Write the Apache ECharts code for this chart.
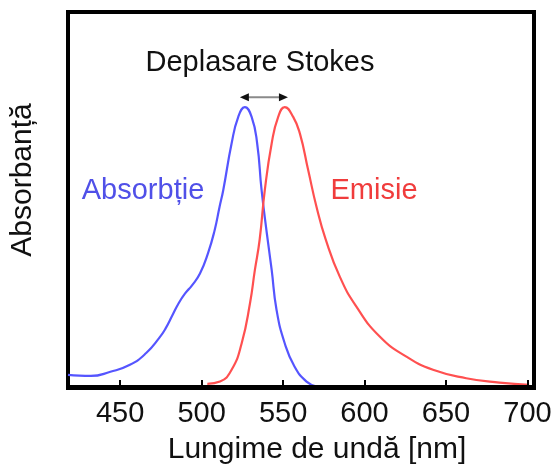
<!DOCTYPE html>
<html>
<head>
<meta charset="utf-8">
<script src="https://cdn.jsdelivr.net/npm/echarts@6/dist/echarts.min.js"></script>
<style>html,body{margin:0;padding:0;background:#fff}#c{width:555px;height:470px}</style>
</head>
<body>
<div id="c"></div>
<script>
// Tick labels (wavelength, nm)
const wavelengthTicks = [450, 500, 550, 600, 650, 700];

// Absorption curve (blue)
const absWl  = [418, 425, 432, 444, 456, 466, 474, 478, 482, 486, 490, 494, 499, 504, 508, 511, 513.3, 518.4, 522.5, 526.5, 530.7, 534.1, 536.8, 540, 543, 546, 551, 557, 564.4, 571];
const absVal = [0.043, 0.040, 0.039, 0.054, 0.079, 0.121, 0.175, 0.21, 0.255, 0.30, 0.335, 0.362, 0.405, 0.479, 0.56, 0.643, 0.704, 0.870, 0.965, 1.0, 0.965, 0.870, 0.704, 0.55, 0.418, 0.275, 0.156, 0.073, 0.019, 0.0];

// Emission curve (red)
const emWl  = [503.5, 511.3, 518.4, 524.6, 529.7, 532.7, 535.6, 538.8, 543, 547, 551, 556.2, 560.3, 565.4, 570.5, 576, 584.8, 595, 609.3, 625.7, 642, 662.4, 682.8, 701];
const emVal = [0.011, 0.019, 0.061, 0.156, 0.299, 0.418, 0.525, 0.704, 0.870, 0.965, 1.0, 0.965, 0.906, 0.775, 0.644, 0.53, 0.394, 0.287, 0.18, 0.108, 0.061, 0.031, 0.015, 0.007];

// Stokes shift arrow ends (nm) and height
const shiftEnds = [523.5, 553];
const shiftLevel = 1.035;

const FONT = "'Liberation Sans', Arial, sans-serif";
const chart = echarts.init(document.getElementById('c'), null, {renderer: 'canvas'});

chart.setOption({
  animation: false,
  backgroundColor: '#fff',
  grid: {left: 68, right: 21, top: 12, bottom: 82, show: true, borderColor: '#000', borderWidth: 4, backgroundColor: 'transparent'},
  xAxis: {
    type: 'value', min: 418, max: 704, z: 5,
    name: 'Lungime de undă [nm]', nameLocation: 'middle', nameGap: 47,
    nameTextStyle: {fontFamily: FONT, fontSize: 30, color: '#111', padding: [0, 0, 0, 32]},
    axisLine: {show: true, lineStyle: {color: '#000', width: 4}},
    axisTick: {show: true, inside: true, length: 7, customValues: wavelengthTicks, lineStyle: {color: '#000', width: 2}},
    axisLabel: {show: true, margin: 11, customValues: wavelengthTicks, fontFamily: FONT, fontSize: 29, color: '#111'},
    splitLine: {show: false}
  },
  yAxis: {
    type: 'value', min: -0.004, max: 1.34,
    name: 'Absorbanță', nameLocation: 'middle', nameGap: 30,
    nameTextStyle: {fontFamily: FONT, fontSize: 30, color: '#111', padding: [0, 0, 0, 40]},
    axisLine: {show: false}, axisTick: {show: false}, axisLabel: {show: false}, splitLine: {show: false}
  },
  series: [
    {type: 'line', name: 'Absorbție', data: absWl.map((w, i) => [w, absVal[i]]), showSymbol: false, smooth: 0.5, lineStyle: {color: '#5555ff', width: 2.2}, itemStyle: {color: '#5555ff'}},
    {type: 'line', name: 'Emisie', data: emWl.map((w, i) => [w, emVal[i]]), showSymbol: false, smooth: 0.5, lineStyle: {color: '#ff5050', width: 2.2}, itemStyle: {color: '#ff5050'}}
  ]
});

const p1 = chart.convertToPixel({gridIndex: 0}, [shiftEnds[0], shiftLevel]);
const p2 = chart.convertToPixel({gridIndex: 0}, [shiftEnds[1], shiftLevel]);
const ah = 9, hw = 4;

chart.setOption({
  graphic: [
    {type: 'line', shape: {x1: p1[0] + ah - 1, y1: p1[1], x2: p2[0] - ah + 1, y2: p2[1]}, style: {stroke: '#8a8a8a', lineWidth: 2}, z: 10},
    {type: 'polygon', shape: {points: [[p1[0], p1[1]], [p1[0] + ah, p1[1] - hw], [p1[0] + ah, p1[1] + hw]]}, style: {fill: '#111'}, z: 10},
    {type: 'polygon', shape: {points: [[p2[0], p2[1]], [p2[0] - ah, p2[1] - hw], [p2[0] - ah, p2[1] + hw]]}, style: {fill: '#111'}, z: 10},
    {type: 'text', x: 260, y: 63, style: {text: 'Deplasare Stokes', font: '29px ' + FONT, fill: '#111', textAlign: 'center', textVerticalAlign: 'middle'}, z: 10},
    {type: 'text', x: 143, y: 191, style: {text: 'Absorbție', font: '29px ' + FONT, fill: '#5050e8', textAlign: 'center', textVerticalAlign: 'middle'}, z: 10},
    {type: 'text', x: 374, y: 191, style: {text: 'Emisie', font: '29px ' + FONT, fill: '#f03c3c', textAlign: 'center', textVerticalAlign: 'middle'}, z: 10}
  ]
});
</script>
</body>
</html>
